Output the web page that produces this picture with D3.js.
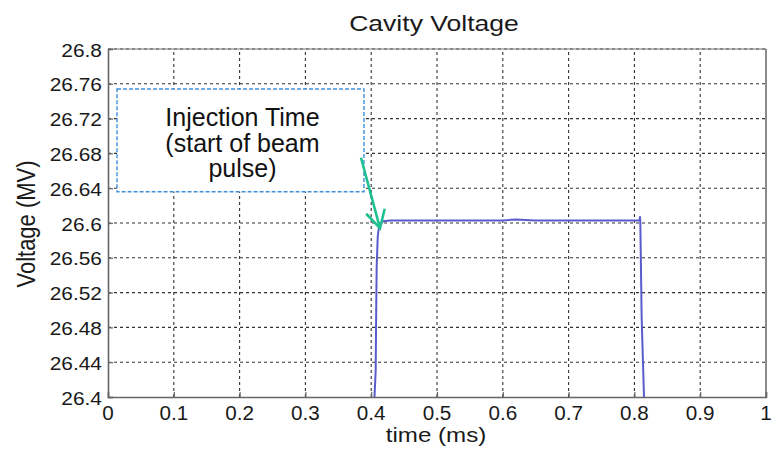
<!DOCTYPE html>
<html>
<head>
<meta charset="utf-8">
<script src="https://cdn.jsdelivr.net/npm/d3@7"></script>
<style>
  html, body { margin: 0; padding: 0; background: #fff; }
  svg { display: block; font-family: "Liberation Sans", Arial, sans-serif; }
</style>
</head>
<body>
<svg id="chart" width="784" height="454"></svg>
<script>
// Cavity voltage trace: time (ms) vs voltage (MV)
const timeMs = [0.4040, 0.4050, 0.4068, 0.4076, 0.4083, 0.4100, 0.4123, 0.4180, 0.4286,
                0.45, 0.50, 0.55, 0.60, 0.62, 0.65, 0.70, 0.75, 0.80, 0.8080,
                0.8085, 0.8090, 0.8096, 0.8110, 0.8146, 0.8155];
const voltageMV = [26.38, 26.40, 26.43, 26.50, 26.55, 26.585, 26.598, 26.602, 26.603,
                   26.603, 26.603, 26.603, 26.603, 26.604, 26.603, 26.603, 26.603, 26.603, 26.603,
                   26.607, 26.600, 26.569, 26.492, 26.40, 26.38];

const xTicks = [0, 0.1, 0.2, 0.3, 0.4, 0.5, 0.6, 0.7, 0.8, 0.9, 1];
const xTickLabels = ["0", "0.1", "0.2", "0.3", "0.4", "0.5", "0.6", "0.7", "0.8", "0.9", "1"];
const yTicks = [26.4, 26.44, 26.48, 26.52, 26.56, 26.6, 26.64, 26.68, 26.72, 26.76, 26.8];
const yTickLabels = ["26.4", "26.44", "26.48", "26.52", "26.56", "26.6", "26.64", "26.68", "26.72", "26.76", "26.8"];

// Callout box corners and arrow (data coordinates)
const calloutBox = [[0.0137, 26.754], [0.389, 26.636]];
const calloutLines = ["Injection Time", "(start of beam", "pulse)"];
const arrowFrom = [0.3845, 26.675];
const arrowTo = [0.4134, 26.594];

const svg = d3.select("#chart");
const L = 108, R = 766, T = 49, B = 397;
const x = d3.scaleLinear().domain([0, 1]).range([L, R]);
const y = d3.scaleLinear().domain([26.4, 26.8]).range([B, T]);

function wideText(g, tx, ty, str, size, anchor, sx) {
  return g.append("text")
    .attr("transform", `translate(${tx},${ty}) scale(${sx},1)`)
    .attr("text-anchor", anchor)
    .attr("font-size", size)
    .attr("fill", "#1a1a1a")
    .text(str);
}

// Grid
const grid = svg.append("g").attr("stroke", "#333").attr("stroke-width", 1.1)
  .attr("stroke-dasharray", "3,3");
xTicks.slice(1, -1).forEach(v => {
  grid.append("line").attr("x1", x(v)).attr("x2", x(v)).attr("y1", B).attr("y2", T);
});
yTicks.slice(1).forEach(v => {
  grid.append("line").attr("x1", L).attr("x2", R).attr("y1", y(v)).attr("y2", y(v));
});

// Frame
svg.append("line").attr("x1", L).attr("x2", R).attr("y1", T).attr("y2", T)
  .attr("stroke", "#777").attr("stroke-width", 1);
svg.append("line").attr("x1", R).attr("x2", R).attr("y1", T).attr("y2", B)
  .attr("stroke", "#666").attr("stroke-width", 1.5);

// Axes with inward ticks
const xAxis = svg.append("g").attr("transform", `translate(0,${B})`)
  .call(d3.axisBottom(x).tickValues(xTicks).tickSize(-5).tickFormat(""));
const yAxis = svg.append("g").attr("transform", `translate(${L},0)`)
  .call(d3.axisLeft(y).tickValues(yTicks).tickSize(-5).tickFormat(""));
[xAxis, yAxis].forEach(a => {
  a.select(".domain").attr("stroke", "#666").attr("stroke-width", 1.6);
  a.selectAll(".tick line").attr("stroke", "#666").attr("stroke-width", 1.2);
});

// Tick labels
xTicks.forEach((v, i) => wideText(svg, x(v), 419.5, xTickLabels[i], 19.5, "middle", 1.06));
yTicks.forEach((v, i) => wideText(svg, 102, y(v) + 7.5, yTickLabels[i], 19, "end", 1.1));

// Titles
wideText(svg, 434, 30.5, "Cavity Voltage", 22.5, "middle", 1.18);
wideText(svg, 436, 441.5, "time (ms)", 21, "middle", 1.15);
svg.append("text")
  .attr("transform", "translate(35,224) rotate(-90) scale(1,1.2)")
  .attr("text-anchor", "middle").attr("font-size", 22).attr("fill", "#1a1a1a")
  .text("Voltage (MV)");

// Voltage trace
svg.append("clipPath").attr("id", "plotClip").append("rect")
  .attr("x", L).attr("y", T).attr("width", R - L).attr("height", B - T);
const line = d3.line().x((d, i) => x(timeMs[i])).y(d => y(d));
svg.append("path").datum(voltageMV)
  .attr("clip-path", "url(#plotClip)")
  .attr("d", line)
  .attr("fill", "none").attr("stroke", "#5a5ccb").attr("stroke-width", 2)
  .attr("stroke-linejoin", "round");

// Callout box
const bx = x(calloutBox[0][0]), by = y(calloutBox[0][1]);
const bw = x(calloutBox[1][0]) - bx, bh = y(calloutBox[1][1]) - by;
svg.append("rect").attr("x", bx).attr("y", by).attr("width", bw).attr("height", bh)
  .attr("fill", "#fff").attr("stroke", "#3d8fd8").attr("stroke-width", 1.4)
  .attr("stroke-dasharray", "4,2");
calloutLines.forEach((s, i) => {
  svg.append("text").attr("x", bx + bw / 2 + 2).attr("y", 126 + i * 25.5)
    .attr("text-anchor", "middle").attr("font-size", 25).attr("fill", "#111").text(s);
});

// Arrow
const ax1 = x(arrowFrom[0]), ay1 = y(arrowFrom[1]);
const ax2 = x(arrowTo[0]), ay2 = y(arrowTo[1]);
const arrowColor = "#1fc08f";
svg.append("line").attr("x1", ax1).attr("y1", ay1).attr("x2", ax2).attr("y2", ay2)
  .attr("stroke", arrowColor).attr("stroke-width", 2.6);
const ang = Math.atan2(ay2 - ay1, ax2 - ax1);
const hl = 20, ha = 0.5;
const head = [
  [ax2 - hl * Math.cos(ang - ha), ay2 - hl * Math.sin(ang - ha)],
  [ax2, ay2],
  [ax2 - hl * Math.cos(ang + ha), ay2 - hl * Math.sin(ang + ha)]
];
svg.append("path").attr("d", d3.line()(head))
  .attr("fill", "none").attr("stroke", arrowColor).attr("stroke-width", 2.6)
  .attr("stroke-linejoin", "miter");
</script>
</body>
</html>
